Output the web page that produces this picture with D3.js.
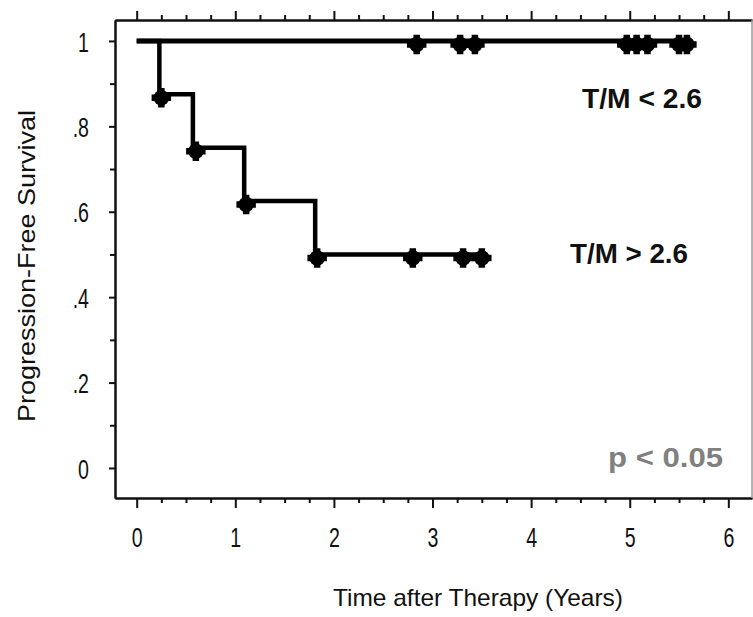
<!DOCTYPE html>
<html>
<head>
<meta charset="utf-8">
<script src="https://cdn.jsdelivr.net/npm/d3@7"></script>
<style>
  html, body { margin: 0; padding: 0; background: #fff; }
  svg { display: block; }
</style>
</head>
<body>
<svg id="chart" width="753" height="617"></svg>
<script>
// ---- Data ----
const xMajorTicks = [0, 1, 2, 3, 4, 5, 6];
const yMajorTicks = [0, 0.2, 0.4, 0.6, 0.8, 1];
const yTickLabels = ["0", ".2", ".4", ".6", ".8", "1"];

// T/M < 2.6 : no events, line stays at 1
const lowTimes = [0, 5.6];
const lowSurv = [1, 1];
const lowMarkTimes = [2.84, 3.28, 3.43, 4.97, 5.07, 5.18, 5.5, 5.58];
const lowMarkSurv = [1, 1, 1, 1, 1, 1, 1, 1];

// T/M > 2.6 : step function
const highTimes = [0, 0.23, 0.57, 1.09, 1.81, 3.5];
const highSurv = [1, 0.875, 0.75, 0.625, 0.5, 0.5];
const highMarkTimes = [0.25, 0.6, 1.11, 1.83, 2.8, 3.31, 3.5];
const highMarkSurv = [0.875, 0.75, 0.625, 0.5, 0.5, 0.5, 0.5];

const groupLabels = ["T/M < 2.6", "T/M > 2.6"];
const pText = "p < 0.05";
const xTitle = "Time after Therapy (Years)";
const yTitle = "Progression-Free Survival";

// ---- Layout ----
const svg = d3.select("#chart");
const mLeft = 115, mRight = 752, mTop = 20, mBottom = 498;

const x = d3.scaleLinear().domain([-0.22, 6.24]).range([mLeft, mRight]);
const y = d3.scaleLinear().domain([-0.0703, 1.049]).range([mBottom, mTop]);

const minorX = d3.range(0, 6.01, 0.25).filter(v => Math.abs(v - Math.round(v)) > 1e-6);
const minorY = d3.range(0, 1.001, 0.1).filter(v => Math.abs(v * 5 - Math.round(v * 5)) > 1e-6);

const axisColor = "#111";
const fontFam = "Liberation Sans, Arial, sans-serif";
const sx = 0.7;
function styleAxis(g) {
  g.selectAll("path.domain").attr("stroke", axisColor).attr("stroke-width", 2);
  g.selectAll(".tick line").attr("stroke", axisColor).attr("stroke-width", 2);
}

// bottom axis: major
const gB = svg.append("g").attr("transform", `translate(0,${mBottom})`)
  .call(d3.axisBottom(x).tickValues(xMajorTicks).tickSize(10).tickSizeOuter(0).tickFormat(d3.format("d")));
styleAxis(gB);
gB.selectAll(".tick text")
  .attr("y", 49).attr("dy", null)
  .attr("font-family", fontFam)
  .attr("font-size", 28).attr("fill", "#111")
  .attr("transform", `scale(${sx},1)`);
// bottom minor
const gBm = svg.append("g").attr("transform", `translate(0,${mBottom})`)
  .call(d3.axisBottom(x).tickValues(minorX).tickSize(5).tickSizeOuter(0).tickFormat(""));
styleAxis(gBm);

// top axis
const gT = svg.append("g").attr("transform", `translate(0,${mTop})`)
  .call(d3.axisTop(x).tickValues(xMajorTicks).tickSize(9).tickSizeOuter(0).tickFormat(""));
styleAxis(gT);
const gTm = svg.append("g").attr("transform", `translate(0,${mTop})`)
  .call(d3.axisTop(x).tickValues(minorX).tickSize(5).tickSizeOuter(0).tickFormat(""));
styleAxis(gTm);

// left axis
const gL = svg.append("g").attr("transform", `translate(${mLeft},0)`)
  .call(d3.axisLeft(y).tickValues(yMajorTicks).tickSize(6).tickSizeOuter(0)
    .tickFormat((d, i) => yTickLabels[i]));
styleAxis(gL);
gL.selectAll(".tick text")
  .attr("x", -26 / sx).attr("dy", "0.36em")
  .attr("font-family", fontFam)
  .attr("font-size", 28).attr("fill", "#111")
  .attr("transform", `scale(${sx},1)`);
const gLm = svg.append("g").attr("transform", `translate(${mLeft},0)`)
  .call(d3.axisLeft(y).tickValues(minorY).tickSize(5).tickSizeOuter(0).tickFormat(""));
styleAxis(gLm);

// right border
svg.append("line")
  .attr("x1", mRight).attr("x2", mRight).attr("y1", mTop).attr("y2", mBottom)
  .attr("stroke", "#999").attr("stroke-width", 1.5);

// ---- Curves ----
const stepLine = d3.line().x(d => x(d[0])).y(d => y(d[1])).curve(d3.curveStepAfter);

svg.append("path")
  .datum(lowTimes.map((t, i) => [t, lowSurv[i]]))
  .attr("d", stepLine).attr("fill", "none")
  .attr("stroke", "#000").attr("stroke-width", 5);

svg.append("path")
  .datum(highTimes.map((t, i) => [t, highSurv[i]]))
  .attr("d", stepLine).attr("fill", "none")
  .attr("stroke", "#000").attr("stroke-width", 4.5);

// markers
const crossPath = d3.symbol().type(d3.symbolCross).size(210)();
function drawMarkers(times, surv) {
  const g = svg.append("g");
  const m = g.selectAll("g.m").data(times.map((t, i) => [t, surv[i]])).enter()
    .append("g").attr("class", "m")
    .attr("transform", d => `translate(${x(d[0])},${y(d[1]) + 3.5})`);
  m.append("circle").attr("r", 7.8).attr("fill", "#000");
  m.append("path").attr("d", crossPath).attr("fill", "#000");
}
drawMarkers(lowMarkTimes, lowMarkSurv);
drawMarkers(highMarkTimes, highMarkSurv);

// ---- Annotations ----
svg.append("text").text(groupLabels[0])
  .attr("x", 582).attr("y", 108)
  .attr("font-family", fontFam)
  .attr("font-weight", "bold").attr("font-size", 28).attr("fill", "#111")
  .attr("textLength", 120).attr("lengthAdjust", "spacingAndGlyphs");
svg.append("text").text(groupLabels[1])
  .attr("x", 570).attr("y", 263)
  .attr("font-family", fontFam)
  .attr("font-weight", "bold").attr("font-size", 28).attr("fill", "#111")
  .attr("textLength", 118).attr("lengthAdjust", "spacingAndGlyphs");
svg.append("text").text(pText)
  .attr("x", 608).attr("y", 467)
  .attr("font-family", fontFam)
  .attr("font-weight", "bold").attr("font-size", 28).attr("fill", "#808080")
  .attr("textLength", 115).attr("lengthAdjust", "spacingAndGlyphs");

// ---- Titles ----
svg.append("text").text(xTitle)
  .attr("x", 333).attr("y", 606)
  .attr("font-family", fontFam)
  .attr("font-size", 24).attr("fill", "#111")
  .attr("textLength", 290).attr("lengthAdjust", "spacingAndGlyphs");
svg.append("text").text(yTitle)
  .attr("transform", "translate(35,422) rotate(-90)")
  .attr("font-family", fontFam)
  .attr("font-size", 24).attr("fill", "#111")
  .attr("textLength", 312).attr("lengthAdjust", "spacingAndGlyphs");
</script>
</body>
</html>
